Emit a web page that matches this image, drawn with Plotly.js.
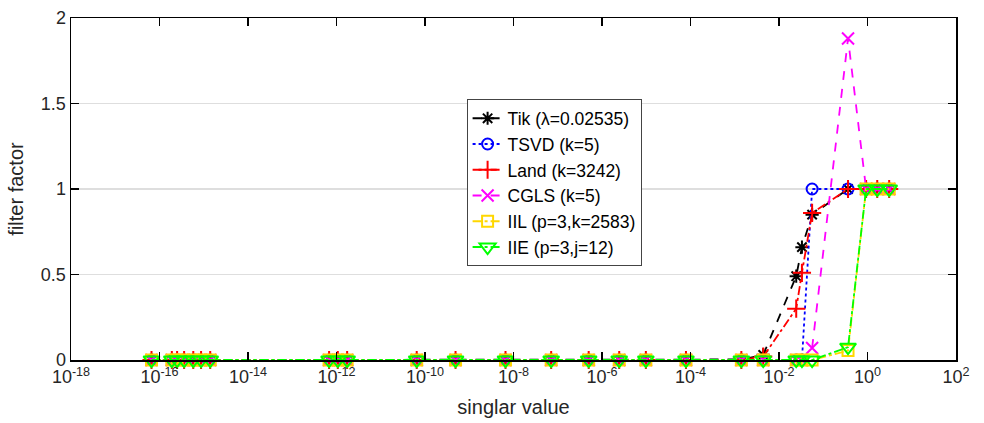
<!DOCTYPE html>
<html>
<head>
<meta charset="utf-8">
<script src="https://cdn.plot.ly/plotly-3.0.1.min.js"></script>
<style>html,body{margin:0;padding:0;background:#fff;}#chart{width:984px;height:423px;}</style>
</head>
<body>
<div id="chart"></div>
<script>
// singular values (x)
const sigma = [6.6e-17, 1.9e-16, 2.5e-16, 3.6e-16, 5.8e-16, 8.7e-16, 1.4e-15,
  6.8e-13, 1.07e-12, 1.74e-12, 6.5e-11, 4.9e-10, 6.6e-9, 7.1e-8, 5.0e-7, 2.45e-6,
  9.8e-6, 7.9e-5, 1.41e-3, 4.4e-3, 2.45e-2, 3.3e-2, 5.6e-2, 0.363, 0.93, 1.66, 3.09];

// filter factors per method
const tik  = [0,0,0,0,0,0,0, 0,0,0, 0,0,0,0,0,0, 0,0, 0.003,0.03,0.49,0.66,0.85,1.0,1,1,1];
const tsvd = [0,0,0,0,0,0,0, 0,0,0, 0,0,0,0,0,0, 0,0, 0,0,0,0,1,1,1,1,1];
const land = [0,0,0,0,0,0,0, 0,0,0, 0,0,0,0,0,0, 0,0, 0,0.02,0.30,0.51,0.86,1.0,1,1,1];
const cgls = [0,0,0,0,0,0,0, 0,0,0, 0,0,0,0,0,0, 0,0, 0,0,0,0,0.07,1.88,1,1,1];
const iil  = [0,0,0,0,0,0,0, 0,0,0, 0,0,0,0,0,0, 0,0, 0,0,0,0,0,0.055,1,1,1];
const iie  = [0,0,0,0,0,0,0, 0,0,0, 0,0,0,0,0,0, 0,0, 0,0,0,0,0,0.075,1,1,1];

const names = ['Tik (λ=0.02535)', 'TSVD (k=5)', 'Land (k=3242)', 'CGLS (k=5)', 'IIL (p=3,k=2583)', 'IIE (p=3,j=12)'];
const xTickVals = [1e-18,1e-16,1e-14,1e-12,1e-10,1e-8,1e-6,1e-4,1e-2,1e0,1e2];
const xTickText = ['10<sup>-18</sup>','10<sup>-16</sup>','10<sup>-14</sup>','10<sup>-12</sup>','10<sup>-10</sup>',
  '10<sup>-8</sup>','10<sup>-6</sup>','10<sup>-4</sup>','10<sup>-2</sup>','10<sup>0</sup>','10<sup>2</sup>'];
const yTickVals = [0, 0.5, 1, 1.5, 2];
const yTickText = ['0', '0.5', '1', '1.5', '2'];

const series = [tik, tsvd, land, cgls, iil, iie];
const colors = ['#000000', '#0000ff', '#ff0000', '#ff00ff', '#ffd700', '#00ff00'];
const dashes = ['dash', 'dot', 'dashdot', 'dash', 'dashdot', 'dashdot'];
const symbols = ['asterisk-open', 'circle-open', 'cross-thin-open', 'x-thin-open', 'square-open', 'triangle-down-open'];
const sizes = [11, 11, 13, 12, 11, 14];

const traces = series.map((ys, i) => ({
  x: sigma, y: ys, name: names[i], type: 'scatter', mode: 'lines+markers',
  legendgroup: 'g' + i,
  cliponaxis: false,
  line: {color: colors[i], width: 1.8, dash: dashes[i]},
  marker: {symbol: symbols[i], size: sizes[i], color: colors[i], line: {color: colors[i], width: 2}}
}));

const layout = {
  width: 984, height: 423,
  margin: {l: 71, r: 28, t: 18, b: 63},
  paper_bgcolor: '#fff', plot_bgcolor: '#fff',
  font: {family: 'Liberation Sans, Arial, sans-serif', size: 18, color: '#262626'},
  showlegend: true,
  legend: {
    x: 0.447, y: 0.762, xanchor: 'left', yanchor: 'top',
    bgcolor: '#fff', bordercolor: '#444', borderwidth: 1,
    font: {size: 17.5, color: '#000'}, tracegroupgap: 0
  },
  xaxis: {
    type: 'log', range: [-18, 2],
    tickvals: xTickVals, ticktext: xTickText,
    ticks: 'inside', ticklen: 8, tickwidth: 1.5, tickcolor: '#000',
    showline: true, linecolor: '#000', linewidth: 1.5, mirror: 'allticks',
    showgrid: false, zeroline: false,
    tickfont: {size: 18, color: '#262626'},
    title: {text: 'singlar value', font: {size: 20, color: '#262626'}, standoff: 14}
  },
  yaxis: {
    range: [0, 2], tickvals: yTickVals, ticktext: yTickText,
    ticks: 'inside', ticklen: 8, tickwidth: 1.5, tickcolor: '#000',
    showline: true, linecolor: '#000', linewidth: 1.5, mirror: 'allticks',
    showgrid: true, gridcolor: '#dedede', gridwidth: 1.5, zeroline: false,
    tickfont: {size: 18, color: '#262626'},
    title: {text: 'filter factor', font: {size: 20, color: '#262626'}, standoff: 12}
  }
};

Plotly.newPlot('chart', traces, layout, {displayModeBar: false, staticPlot: true});
</script>
</body>
</html>
